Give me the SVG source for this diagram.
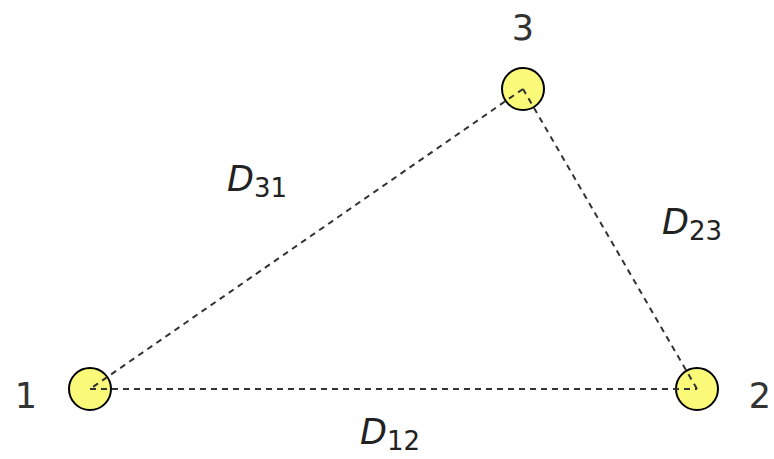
<svg xmlns="http://www.w3.org/2000/svg" width="774" height="459" viewBox="0 0 774 459">
<style>
.node{fill:#fafa78;stroke:#000;stroke-width:2}
.edge{stroke:#333;stroke-width:2;stroke-dasharray:6,5;fill:none}
.num{font-family:"DejaVu Sans",sans-serif;font-size:35px;fill:#333}
.lab{font-family:"DejaVu Sans",sans-serif;font-size:35px;font-style:italic;fill:#222}
.sub{font-size:26px;font-style:normal}
</style>
<rect width="774" height="459" fill="#fff"/>
<g id="node1"><circle class="node" cx="90" cy="389" r="21"/><text class="num" x="26" y="408" text-anchor="middle">1</text></g>
<g id="node2"><circle class="node" cx="697" cy="389" r="21"/><text class="num" x="760" y="408" text-anchor="middle">2</text></g>
<g id="node3"><circle class="node" cx="523" cy="89" r="21"/><text class="num" x="523" y="40" text-anchor="middle">3</text></g>
<g id="connectors">
<line class="edge" x1="90" y1="389" x2="697" y2="389"/>
<line class="edge" x1="697" y1="389" x2="523" y2="89"/>
<line class="edge" x1="523" y1="89" x2="90" y2="389"/>
</g>
<g id="labels">
<text class="lab" x="227" y="191">D<tspan class="sub" dy="6">31</tspan></text>
<text class="lab" x="662" y="234">D<tspan class="sub" dy="6">23</tspan></text>
<text class="lab" x="360" y="444">D<tspan class="sub" dy="6">12</tspan></text>
</g>
</svg>
